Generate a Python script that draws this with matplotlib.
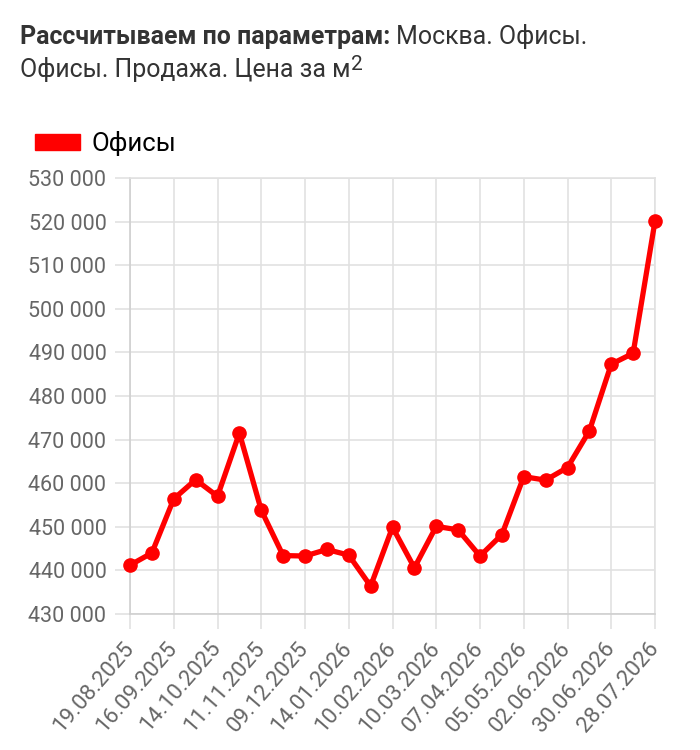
import matplotlib
matplotlib.use("Agg")
import matplotlib.pyplot as plt
from matplotlib.patches import Patch
from matplotlib.ticker import FuncFormatter, MultipleLocator

plt.rcParams['font.family'] = ['Roboto', 'DejaVu Sans']

# labelled dates (every second point)
tick_labels = ['19.08.2025', '16.09.2025', '14.10.2025', '11.11.2025', '09.12.2025',
               '14.01.2026', '10.02.2026', '10.03.2026', '07.04.2026', '05.05.2026',
               '02.06.2026', '30.06.2026', '28.07.2026']

# price per m2, one value per point (25 points)
prices = [441200, 444000, 456400, 460800, 457000, 471500, 453800, 443400, 443300,
          444800, 443500, 436400, 449900, 440600, 450100, 449300, 443300, 448200,
          461500, 460700, 463600, 472000, 487300, 489800, 520100]

series_name = 'Офисы'
red = '#ff0000'
grid_col = '#e1e1e1'
tick_col = '#666666'
title_col = '#333333'

W, H = 700, 750
fig = plt.figure(figsize=(7, 7.5), dpi=100)
ax = fig.add_axes([130 / W, 1 - 614 / H, 525 / W, 436 / H])

xs = list(range(len(prices)))
ax.plot(xs, prices, color=red, lw=3.8, marker='o', ms=9.5,
        solid_joinstyle='round', solid_capstyle='round', zorder=3, clip_on=False)

ax.set_xlim(0, len(prices) - 1)
ax.set_ylim(430000, 530000)
ax.yaxis.set_major_locator(MultipleLocator(10000))
ax.yaxis.set_major_formatter(FuncFormatter(lambda v, p: f'{int(v):,}'.replace(',', ' ')))
ax.set_xticks(xs[::2])
ax.set_xticklabels(tick_labels, rotation=49, ha='right', va='center',
                   rotation_mode='anchor', fontsize=16)

ax.grid(True, color=grid_col, lw=1.2)
ax.set_axisbelow(True)
for s in ax.spines.values():
    s.set_color(grid_col)
    s.set_linewidth(1.2)
ax.spines['bottom'].set_color('#d0d0d0')
ax.spines['left'].set_color('#d0d0d0')
ax.tick_params(axis='both', colors=grid_col, labelcolor=tick_col,
               length=10.5, width=1.2)
ax.tick_params(axis='y', pad=6.5, labelsize=15.5)
ax.tick_params(axis='x', pad=11.5)

# title: bold part + regular part, on two lines
renderer = fig.canvas.get_renderer()
fs = 17.9
t1 = fig.text(20 / W, 1 - 44 / H, 'Рассчитываем по параметрам:', fontsize=fs,
              fontweight='bold', color=title_col, va='baseline', ha='left')
w1 = t1.get_window_extent(renderer).width
fig.text((20 + w1) / W, 1 - 44 / H, ' Москва. Офисы.', fontsize=fs,
         color=title_col, va='baseline', ha='left')
t3 = fig.text(20 / W, 1 - 77 / H, 'Офисы. Продажа. Цена за м', fontsize=fs,
              color=title_col, va='baseline', ha='left')
w3 = t3.get_window_extent(renderer).width
fig.text((21 + w3) / W, 1 - 70 / H, '2', fontsize=15, color=title_col,
         va='baseline', ha='left')

# legend
handle = Patch(facecolor=red, edgecolor=red, label=series_name)
fig.legend(handles=[handle], loc='upper left', bbox_to_anchor=(35 / W, 1 - 131 / H),
           frameon=False, fontsize=18.5, handlelength=1.75, handleheight=0.6,
           handletextpad=0.45, borderpad=0, borderaxespad=0)

fig.savefig('out.png', dpi=100)
